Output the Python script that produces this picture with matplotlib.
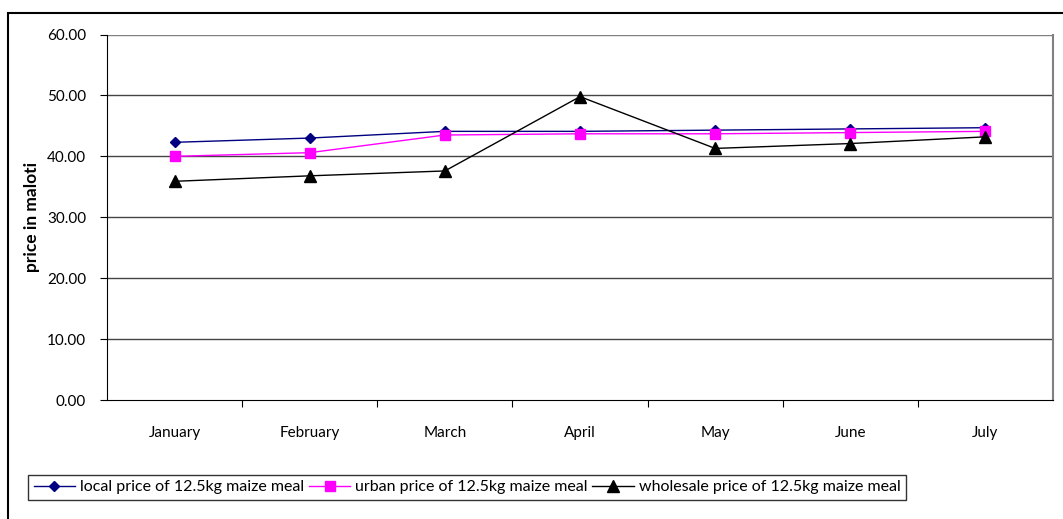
import matplotlib
matplotlib.use("Agg")
import matplotlib.pyplot as plt
from matplotlib.patches import Rectangle

months = ["January", "February", "March", "April", "May", "June", "July"]
local = [42.3, 43.0, 44.1, 44.1, 44.3, 44.5, 44.7]
urban = [40.0, 40.6, 43.5, 43.7, 43.7, 43.9, 44.1]
wholesale = [35.9, 36.8, 37.6, 49.8, 41.3, 42.1, 43.2]
yticks = [0, 10, 20, 30, 40, 50, 60]

plt.rcParams['font.family'] = ['Lato', 'DejaVu Sans']

fig = plt.figure(figsize=(10.63, 5.19), dpi=100)
ax = fig.add_axes([107/1063, 1-400/519, (1053-107)/1063, (400-34.5)/519])

x = range(len(months))
ax.plot(x, local, color='#000080', marker='D', markersize=5, lw=1,
        label='local price of 12.5kg maize meal')
ax.plot(x, urban, color='#ff00ff', marker='s', markersize=7, lw=1,
        label='urban price of 12.5kg maize meal')
ax.plot(x, wholesale, color='black', marker='^', markersize=8, lw=1,
        label='wholesale price of 12.5kg maize meal')

ax.set_xlim(-0.5, len(months) - 0.5)
ax.set_ylim(0, 60)
ax.set_yticks(yticks)
ax.set_yticklabels([f"{v:.2f}" for v in yticks], fontsize=11)
ax.set_xticks([i - 0.5 for i in range(1, len(months))], minor=False)
ax.set_xticklabels([])
ax.set_xticks(list(x), minor=True)
ax.set_xticklabels(months, minor=True, fontsize=11)
ax.tick_params(axis='x', which='major', length=5, direction='out', color='black')
ax.tick_params(axis='x', which='minor', length=0, pad=19)
ax.tick_params(axis='y', length=5, direction='out', pad=10)

for v in yticks[1:]:
    ax.axhline(v, color='#444444' if v < 60 else '#808080', lw=1, zorder=0)

ax.spines['top'].set_visible(False)
ax.spines['right'].set_color('#808080')
ax.spines['right'].set_linewidth(1.5)
ax.spines['left'].set_color('black')
ax.spines['bottom'].set_color('black')

ax.set_ylabel('price in maloti', fontsize=12.5, fontweight='bold', labelpad=5)

leg = fig.legend(loc='lower left', bbox_to_anchor=(28/1063, 1-500/519), ncol=3,
                 fontsize=11.5, frameon=True, fancybox=False, edgecolor='black',
                 handlelength=2.6, handletextpad=0.3, columnspacing=0.3,
                 borderpad=0.35, borderaxespad=0)
leg.get_frame().set_linewidth(1)

fig.patches.append(Rectangle((8/1063, -0.1), 1.2, 1.1 - 12.5/519,
                             transform=fig.transFigure, fill=False,
                             edgecolor='black', lw=1.5, zorder=-1))

fig.savefig('out.png', dpi=100)
